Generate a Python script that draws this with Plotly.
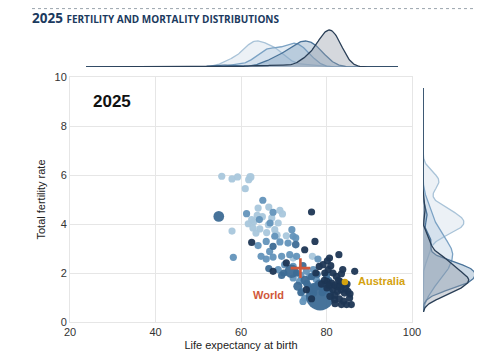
import numpy as np
import plotly.graph_objects as go

# ---------------- data ----------------
group_names = ["Group 1", "Group 2", "Group 3", "Group 4"]

g1_x = [55.5, 57.9, 59.2, 62.2, 61.8, 61.0, 57.9, 64.0, 66.5, 69.1, 69.7, 61.7, 62.8, 64.4,
        66.4, 68.7, 67.9, 68.3, 70.6, 72.2, 76.7, 65.0, 63.0, 62.5, 63.5, 66.0, 63.8, 67.2]
g1_y = [5.95, 5.84, 5.92, 5.92, 5.81, 5.44, 3.71, 4.65, 4.69, 4.56, 4.41, 4.01, 3.84, 3.80,
        3.97, 4.04, 3.77, 3.54, 3.52, 2.61, 2.68, 4.30, 4.10, 4.18, 3.63, 3.65, 4.35, 4.25]
g1_pop = [60, 30, 40, 150, 60, 70, 40, 90, 90, 30, 70, 90, 40, 40,
          40, 90, 70, 160, 30, 60, 40, 30, 30, 70, 40, 50, 40, 50]

g2_x = [65.1, 61.3, 67.5, 64.3, 66.8, 67.9, 72.8, 71.9, 64.0, 65.9, 71.0, 64.7,
        65.9, 67.5, 66.7, 69.5, 71.4, 73.0, 78.0, 68.7, 70.2, 72.2, 75.3, 76.9, 72.2, 73.7,
        75.3, 74.9, 77.6, 76.1, 58.2, 74.5, 76.0, 74.2, 69.1, 72.2, 74.0]
g2_y = [4.97, 4.42, 4.48, 4.18, 4.04, 3.50, 3.43, 3.77, 3.12, 3.29, 3.22, 2.68,
        2.57, 2.65, 2.88, 2.68, 2.75, 2.68, 2.57, 2.14, 2.34, 2.27, 2.07, 2.14, 1.80, 1.66,
        1.59, 0.98, 1.73, 1.86, 2.64, 0.84, 1.45, 1.25, 3.27, 3.50, 1.90]
g2_pop = [110, 40, 90, 70, 70, 40, 40, 20, 90, 70, 40, 40,
          40, 70, 40, 40, 40, 70, 70, 70, 70, 70, 70, 70, 70, 110,
          70, 70, 90, 70, 30, 70, 60, 60, 40, 30, 40]

g3_x = [54.8, 67.5, 72.8, 66.5, 71.8, 73.3, 78.4, 78.5, 76.9, 75.0, 77.0, 79.5, 70.0, 73.0,
        74.5, 80.0, 76.0, 74.0, 69.5, 80.5, 75.5, 77.8, 76.5, 79.0]
g3_y = [4.31, 3.09, 3.16, 2.18, 2.07, 1.46, 1.52, 1.05, 1.18, 1.70, 1.40, 1.30, 2.00, 2.00,
        2.30, 1.90, 1.30, 1.20, 1.90, 1.70, 1.55, 1.95, 1.85, 1.20]
g3_pop = [260, 80, 130, 100, 420, 190, 260, 1800, 130, 190, 190, 100, 80, 100,
          80, 80, 80, 50, 50, 100, 100, 80, 80, 80]

g4_x = [76.5, 62.5, 77.3, 74.9, 79.2, 80.7, 82.9, 78.3, 67.5, 70.6, 75.3, 80.1, 81.2, 80.1,
        81.5, 80.8, 81.9, 83.1, 83.8, 83.4, 84.2, 85.0, 85.4, 83.5, 84.7, 85.8, 86.6, 83.8,
        83.5, 82.3, 79.6, 80.4, 82.5, 82.0, 83.0, 84.5, 81.5, 79.5, 82.8, 84.8, 80.2, 81.0,
        78.8, 84.0, 82.0, 76.5, 77.5, 85.5, 81.8, 83.2, 80.6, 82.6]
g4_y = [4.49, 3.25, 3.29, 2.95, 2.34, 2.61, 2.75, 2.27, 2.07, 2.41, 1.32, 1.66, 1.59, 1.39,
        1.32, 1.05, 0.91, 1.66, 1.52, 1.32, 1.18, 1.25, 0.98, 0.71, 0.71, 0.71, 2.07, 2.14,
        1.97, 1.86, 2.00, 2.14, 1.45, 1.10, 0.95, 1.40, 2.00, 1.70, 1.70, 1.55, 2.50, 2.30,
        1.55, 0.85, 0.75, 0.95, 2.00, 1.15, 1.50, 1.45, 1.50, 1.25]
g4_pop = [30, 30, 30, 60, 60, 40, 60, 40, 40, 30, 40, 90, 90, 90,
          90, 60, 60, 90, 110, 110, 90, 60, 40, 40, 40, 40, 30, 30,
          40, 40, 60, 40, 110, 60, 60, 60, 40, 60, 60, 40, 40, 40,
          60, 40, 40, 40, 30, 40, 90, 90, 60, 60]

world_x, world_y = [73.9], [2.2]
australia_x, australia_y = [84.3], [1.63]

x_ticks = [20, 40, 60, 80, 100]
y_ticks = [0, 2, 4, 6, 8, 10]

# ---------------- styling ----------------
dot_colors = ["#a9c7dc", "#6393bb", "#3d6b95", "#1d3654"]
line_colors = ["#a9c3d8", "#7ba2c4", "#4a7399", "#2a3f57"]
fill_colors = ["rgba(200,216,230,0.35)", "rgba(160,190,215,0.30)",
               "rgba(110,145,180,0.35)", "rgba(150,158,170,0.40)"]

groups_x = [g1_x, g2_x, g3_x, g4_x]
groups_y = [g1_y, g2_y, g3_y, g4_y]
groups_pop = [g1_pop, g2_pop, g3_pop, g4_pop]


def kde(values, grid, factor):
    v = np.asarray(values, dtype=float)
    bw = factor * 1.06 * v.std() * len(v) ** (-0.2)
    d = np.exp(-0.5 * ((grid[None, :] - v[:, None]) / bw) ** 2).sum(axis=0)
    return d / (len(v) * bw * np.sqrt(2 * np.pi))


top_grid = np.linspace(20, 100, 400)
right_grid = np.linspace(0, 10, 400)

fig = go.Figure()

for i in range(4):
    fig.add_trace(go.Scatter(
        x=groups_x[i], y=groups_y[i], mode="markers", name=group_names[i],
        marker=dict(size=groups_pop[i], sizemode="area", sizeref=4.5, sizemin=3.6,
                    color=dot_colors[i], opacity=0.95, line=dict(width=0)),
        xaxis="x", yaxis="y", showlegend=False, hoverinfo="x+y"))

fig.add_trace(go.Scatter(x=world_x, y=world_y, mode="markers",
                         marker=dict(symbol="cross-thin", size=14,
                                     line=dict(width=2.6, color="#d0583a")),
                         showlegend=False, xaxis="x", yaxis="y"))
fig.add_trace(go.Scatter(x=australia_x, y=australia_y, mode="markers",
                         marker=dict(size=6.5, color="#d4a20f"),
                         showlegend=False, xaxis="x", yaxis="y"))

top_max = 0
for i in range(4):
    d = kde(groups_x[i], top_grid, 0.9)
    top_max = max(top_max, d.max())
    fig.add_trace(go.Scatter(x=top_grid, y=d, mode="lines", fill="tozeroy",
                             fillcolor=fill_colors[i],
                             line=dict(color=line_colors[i], width=1.3),
                             xaxis="x3", yaxis="y2", showlegend=False, hoverinfo="skip"))

right_max = 0
for i in range(4):
    d = kde(groups_y[i], right_grid, 0.8)
    right_max = max(right_max, d.max())
    fig.add_trace(go.Scatter(x=d, y=right_grid, mode="lines", fill="tozerox",
                             fillcolor=fill_colors[i],
                             line=dict(color=line_colors[i], width=1.3),
                             xaxis="x2", yaxis="y3", showlegend=False, hoverinfo="skip"))

# figure is offset by the 8px page margin
W, H = 474, 356
OFF = 8


def fx(px):
    return (px - OFF) / W


def fy(py):
    return (H - (py - OFF)) / H


grid_col = "#e6e6e6"
fig.update_layout(
    width=W, height=H, margin=dict(l=0, r=0, t=0, b=0, autoexpand=False),
    paper_bgcolor="white", plot_bgcolor="white",
    font=dict(family="Liberation Sans, Arial, sans-serif", size=11, color="#333"),
    xaxis=dict(domain=[fx(70), fx(412)], range=[20, 100], tickvals=x_ticks,
               showgrid=True, gridcolor=grid_col, zeroline=False, automargin=False,
               showline=True, linecolor=grid_col, mirror=True,
               ticks="", tickfont=dict(size=11, color="#333"),
               title=dict(text="Life expectancy at birth", font=dict(size=11, color="#222"),
                          standoff=4),
               anchor="y"),
    yaxis=dict(domain=[fy(322), fy(77)], range=[0, 10], tickvals=y_ticks,
               showgrid=True, gridcolor=grid_col, zeroline=False, automargin=False,
               showline=True, linecolor=grid_col, mirror=True,
               ticks="", tickfont=dict(size=11, color="#333"),
               title=dict(text="Total fertility rate", font=dict(size=11, color="#222"),
                          standoff=6),
               anchor="x"),
    xaxis3=dict(domain=[fx(86), fx(398)], range=[20, 100], visible=False, anchor="y2"),
    yaxis2=dict(domain=[fy(67), fy(25)], range=[0, top_max * 42 / 37],
                visible=False, anchor="x3"),
    xaxis2=dict(domain=[fx(423), fx(480)], range=[0, right_max * 57 / 52],
                visible=False, anchor="y3"),
    yaxis3=dict(domain=[fy(312), fy(88)], range=[0, 10],
                visible=False, anchor="x2"),
)

fig.add_annotation(xref="paper", yref="paper", x=fx(31), y=1.0,
                   xanchor="left", yanchor="top", showarrow=False, borderpad=0,
                   text="<b>2025</b> <b><span style='font-size:10px'>FERTILITY AND MORTALITY DISTRIBUTIONS</span></b>",
                   font=dict(family="Open Sans, Liberation Sans, sans-serif", size=13.5, color="#1b3a5e"))
fig.add_shape(type="line", xref="paper", yref="paper", x0=fx(32), x1=1, y0=1 - 0.6 / H,
              y1=1 - 0.6 / H, line=dict(color="#9aa4ad", width=1, dash="dot"))

fig.add_annotation(x=24.8, y=8.98, xref="x", yref="y", text="<b>2025</b>", showarrow=False,
                   xanchor="left", yanchor="middle", font=dict(size=17, color="#111"))
fig.add_annotation(x=66.5, y=1.1, xref="x", yref="y", text="<b>World</b>", showarrow=False,
                   xanchor="center", yanchor="middle", font=dict(size=11, color="#d0583a"))
fig.add_annotation(x=86.9, y=1.67, xref="x", yref="y", text="<b>Australia</b>", showarrow=False,
                   xanchor="left", yanchor="middle", font=dict(size=11, color="#d4a20f"))

fig.write_html("out.html")
